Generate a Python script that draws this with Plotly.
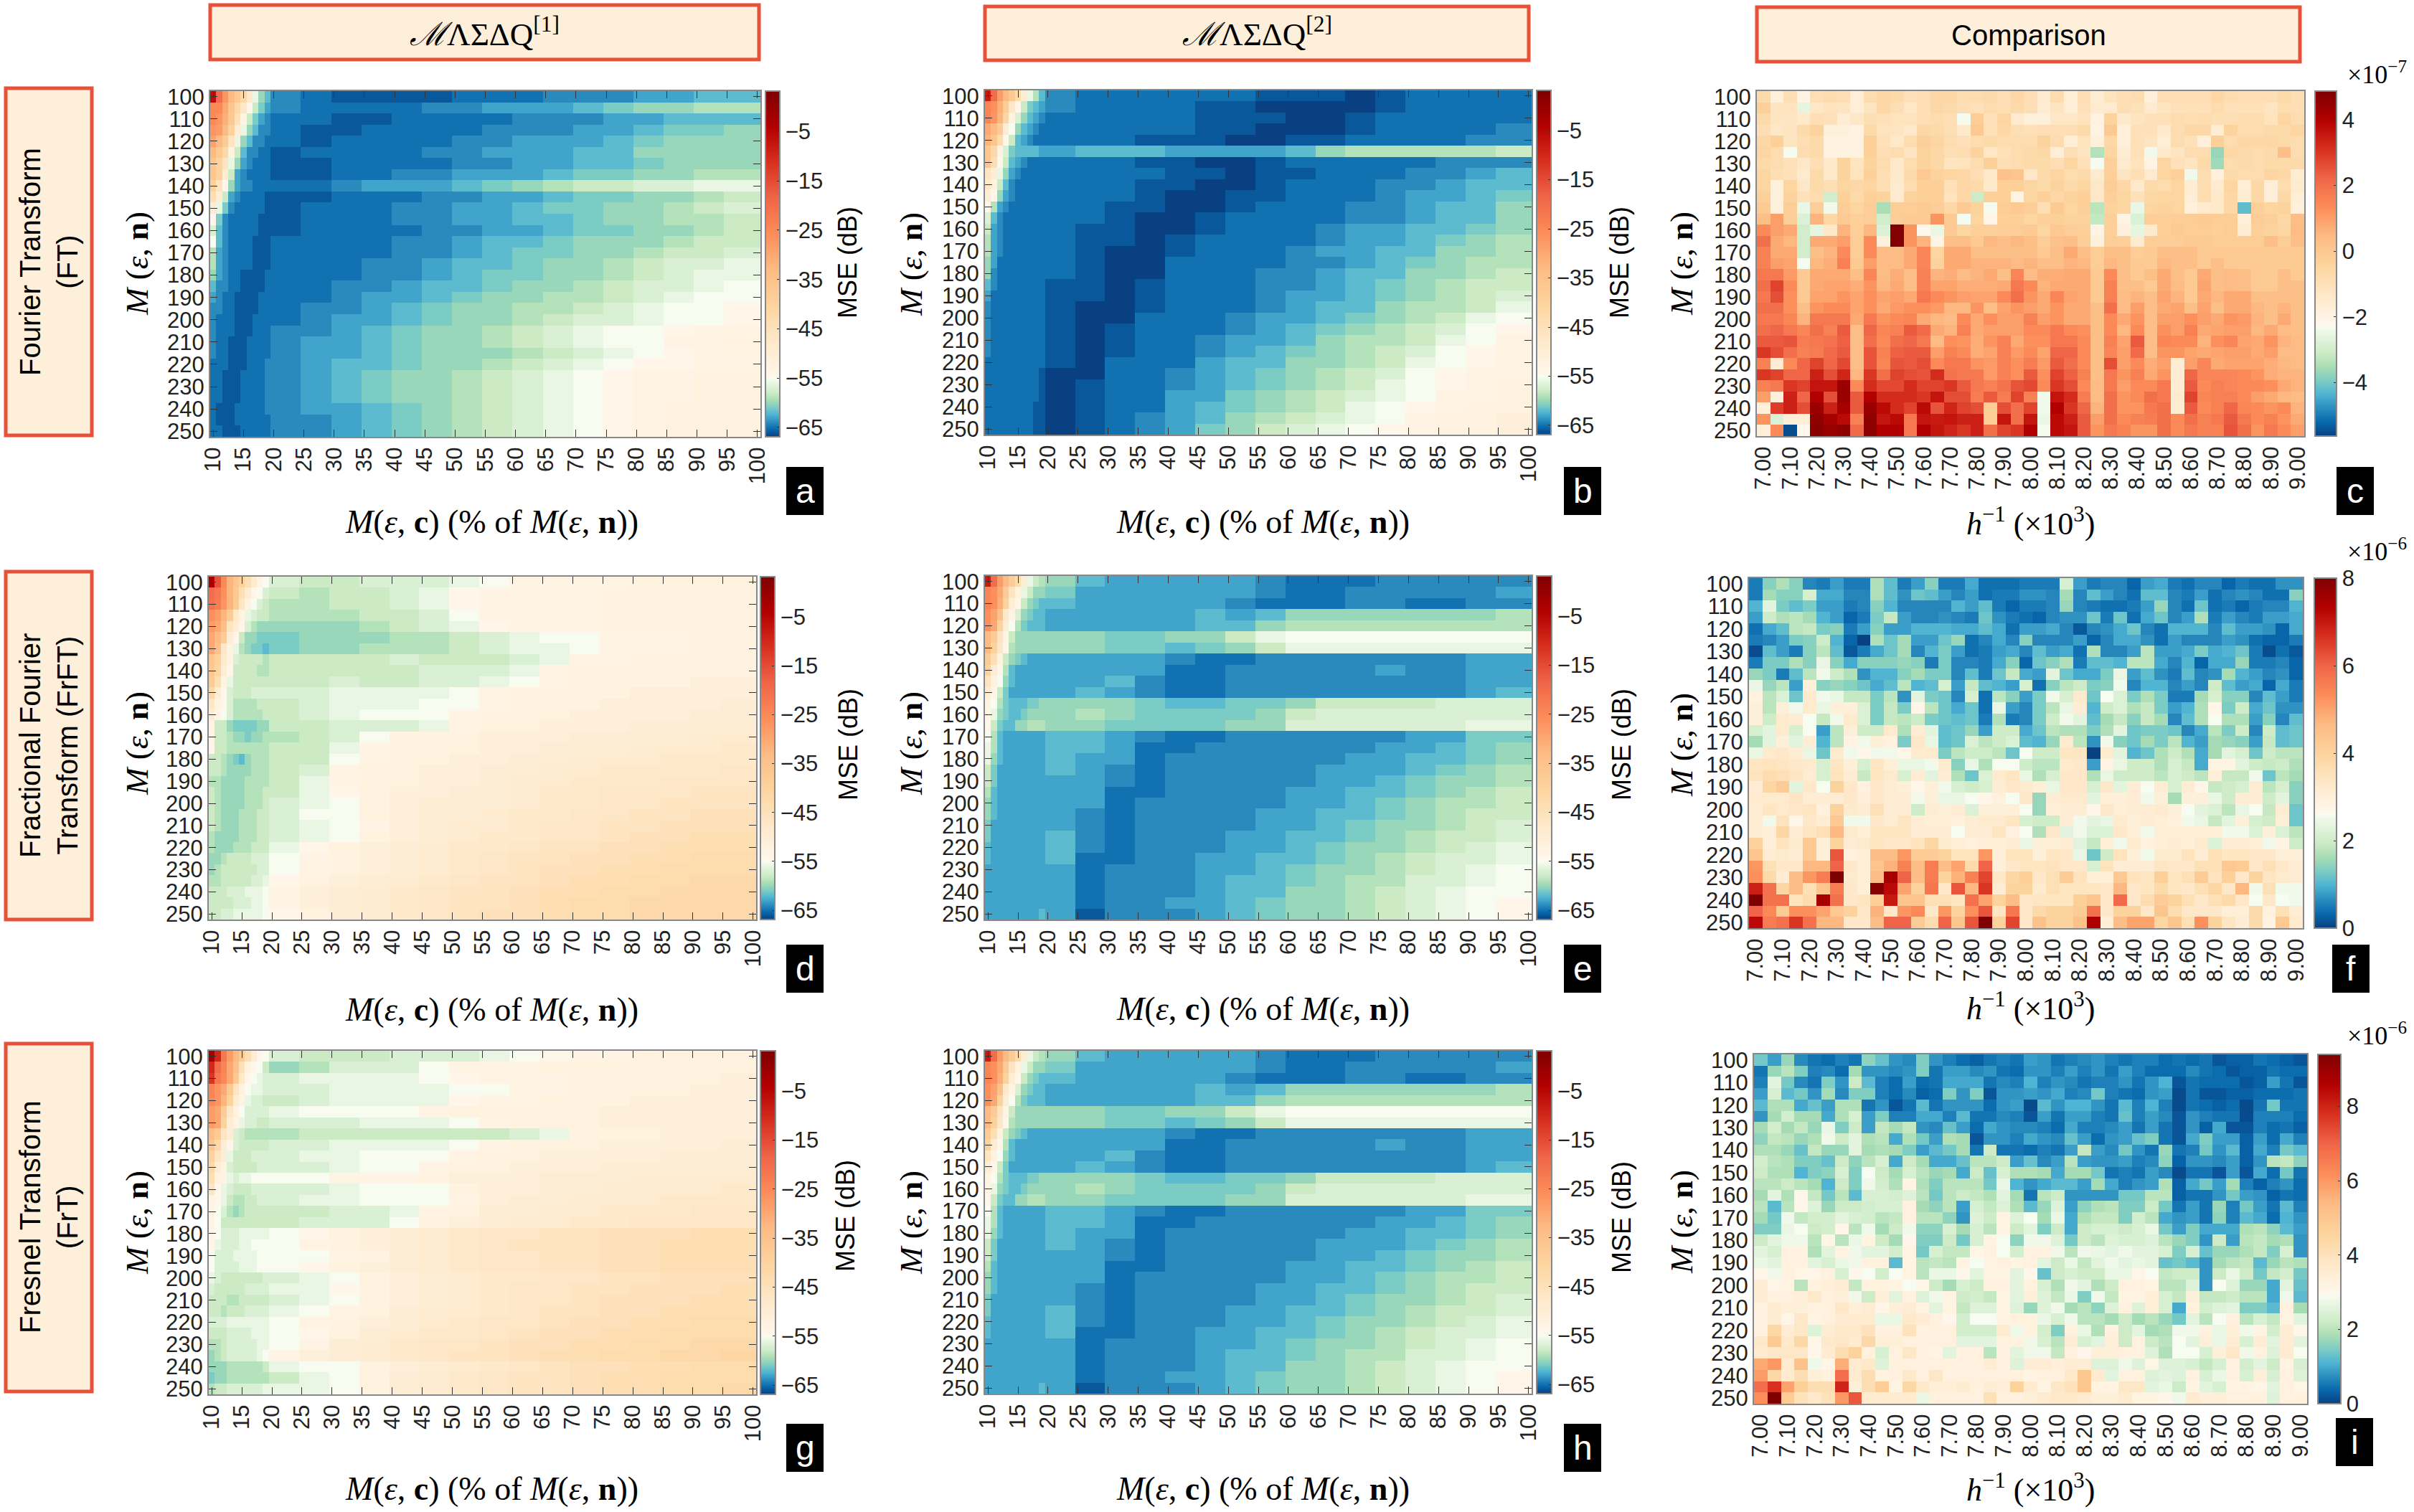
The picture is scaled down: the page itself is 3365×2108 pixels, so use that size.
import plotly.graph_objects as go

W, H = 3365, 2108

# column edges of the % panels, finer where the front is steep
PCT_EDGES = [9.5, 10.5, 11.5, 12.5, 13.5, 14.5, 15.5, 16.5, 17.5, 18.5, 19.5, 24.5, 29.5, 34.5, 39.5, 44.5, 49.5,
             54.5, 59.5, 64.5, 69.5, 74.5, 79.5, 84.5, 89.5, 94.5, 100.5]
M_EDGES = [97.5 + 5 * i for i in range(32)]
H_EDGES = [6.975 + 0.05 * i for i in range(42)]

A_VALUES = [
    [-6,-20,-27,-33,-37,-42,-48,-56,-60,-62,-64,-65,-66,-66,-66,-66,-65,-65,-65,-64,-64,-64,-63,-63,-62,-62],
    [-25,-25,-30,-36,-42,-47,-54,-58,-61,-63,-64,-65,-65,-65,-65,-64,-64,-63,-63,-63,-62,-61,-60,-60,-59,-59],
    [-25,-27,-31,-37,-45,-53,-58,-61,-63,-64,-65,-65,-66,-66,-65,-65,-65,-65,-64,-64,-64,-63,-63,-62,-62,-62],
    [-27,-28,-33,-40,-50,-56,-60,-62,-64,-64,-65,-66,-66,-65,-65,-65,-65,-64,-64,-64,-63,-63,-62,-61,-61,-60],
    [-29,-33,-38,-46,-56,-60,-62,-64,-64,-65,-65,-66,-65,-65,-65,-65,-64,-64,-63,-63,-63,-62,-61,-60,-60,-60],
    [-33,-37,-42,-52,-58,-62,-64,-64,-65,-65,-66,-65,-65,-65,-65,-64,-64,-63,-63,-63,-62,-62,-60,-60,-60,-60],
    [-36,-40,-46,-56,-60,-63,-64,-65,-65,-65,-66,-66,-65,-65,-65,-65,-64,-64,-63,-63,-62,-62,-61,-60,-60,-60],
    [-36,-40,-50,-58,-63,-64,-65,-65,-65,-65,-66,-66,-65,-65,-64,-64,-63,-63,-63,-62,-61,-61,-60,-60,-59,-59],
    [-40,-46,-54,-60,-63,-64,-64,-65,-65,-65,-65,-65,-64,-63,-63,-63,-62,-61,-60,-59,-58,-58,-57,-57,-56,-56],
    [-44,-50,-58,-63,-64,-65,-65,-65,-65,-66,-66,-66,-65,-65,-65,-64,-64,-63,-63,-62,-61,-61,-60,-60,-59,-58],
    [-50,-56,-61,-64,-65,-65,-65,-65,-65,-66,-66,-65,-65,-65,-64,-64,-63,-63,-62,-61,-61,-60,-60,-59,-58,-57],
    [-54,-61,-64,-65,-65,-65,-65,-65,-66,-66,-66,-65,-65,-65,-64,-64,-63,-63,-62,-62,-61,-60,-60,-59,-59,-58],
    [-57,-62,-64,-65,-65,-65,-65,-65,-66,-66,-66,-65,-65,-65,-65,-64,-64,-63,-63,-62,-61,-61,-60,-60,-59,-58],
    [-55,-62,-64,-65,-65,-65,-65,-66,-66,-66,-65,-65,-65,-65,-64,-64,-63,-62,-62,-61,-60,-60,-60,-59,-58,-58],
    [-59,-63,-64,-65,-65,-65,-65,-66,-66,-66,-65,-65,-65,-65,-64,-64,-63,-62,-61,-61,-60,-60,-59,-58,-58,-57],
    [-59,-63,-64,-65,-65,-65,-65,-66,-66,-66,-65,-65,-65,-64,-64,-63,-62,-62,-61,-60,-60,-59,-58,-57,-57,-56],
    [-60,-63,-64,-65,-65,-66,-66,-66,-66,-65,-65,-65,-65,-64,-64,-63,-62,-61,-61,-60,-60,-59,-58,-57,-56,-56],
    [-62,-64,-64,-65,-65,-66,-66,-66,-66,-65,-65,-65,-64,-64,-63,-62,-62,-61,-60,-60,-59,-58,-57,-57,-56,-55],
    [-63,-64,-65,-65,-66,-66,-66,-66,-65,-65,-65,-65,-64,-63,-63,-62,-61,-60,-60,-59,-59,-58,-57,-56,-55,-55],
    [-64,-64,-65,-65,-66,-66,-66,-66,-65,-65,-65,-64,-64,-63,-62,-61,-60,-60,-59,-59,-58,-57,-56,-55,-55,-54],
    [-64,-65,-65,-65,-66,-66,-66,-65,-65,-65,-65,-64,-63,-63,-62,-61,-60,-60,-59,-58,-57,-57,-56,-55,-55,-54],
    [-64,-65,-65,-65,-66,-66,-66,-65,-65,-65,-64,-64,-63,-62,-61,-60,-60,-59,-58,-57,-56,-55,-55,-54,-53,-53],
    [-64,-65,-65,-66,-66,-66,-65,-65,-65,-65,-64,-63,-63,-62,-61,-60,-60,-59,-58,-57,-56,-55,-55,-53,-53,-52],
    [-64,-65,-65,-66,-66,-66,-65,-65,-65,-65,-64,-63,-63,-62,-61,-60,-60,-60,-59,-58,-57,-56,-55,-54,-53,-53],
    [-65,-65,-65,-66,-66,-66,-65,-65,-65,-64,-64,-63,-62,-62,-61,-60,-60,-59,-58,-57,-56,-55,-54,-54,-53,-53],
    [-65,-65,-66,-66,-66,-65,-65,-65,-65,-64,-64,-63,-62,-61,-60,-60,-59,-58,-57,-56,-55,-54,-53,-53,-52,-52],
    [-65,-65,-66,-66,-66,-65,-65,-65,-65,-64,-64,-63,-62,-61,-60,-60,-59,-58,-57,-56,-55,-54,-53,-53,-52,-52],
    [-65,-65,-66,-66,-66,-65,-65,-65,-65,-64,-64,-63,-62,-61,-60,-60,-59,-58,-57,-56,-55,-54,-53,-53,-52,-52],
    [-65,-66,-66,-66,-65,-65,-65,-65,-65,-64,-64,-63,-63,-62,-61,-60,-59,-58,-57,-56,-55,-54,-53,-52,-52,-52],
    [-65,-66,-66,-66,-65,-65,-65,-65,-65,-65,-64,-64,-63,-62,-61,-60,-59,-58,-57,-56,-55,-54,-53,-52,-52,-52],
    [-65,-65,-66,-66,-66,-65,-65,-65,-65,-65,-64,-64,-63,-62,-61,-60,-59,-58,-57,-56,-55,-54,-53,-52,-52,-52],
]
B_VALUES = [
    [-8,-20,-28,-33,-37,-43,-50,-56,-59,-62,-64,-65,-65,-65,-65,-65,-65,-66,-66,-66,-67,-66,-65,-65,-65,-65],
    [-24,-26,-31,-38,-47,-54,-58,-61,-62,-63,-64,-65,-65,-65,-65,-66,-66,-67,-67,-67,-67,-66,-65,-65,-65,-65],
    [-24,-27,-32,-41,-52,-57,-60,-62,-63,-64,-65,-65,-65,-65,-65,-66,-66,-66,-67,-67,-66,-65,-65,-65,-65,-65],
    [-30,-33,-38,-50,-55,-60,-62,-63,-64,-65,-65,-65,-65,-65,-65,-66,-66,-67,-67,-67,-66,-65,-65,-65,-65,-64],
    [-32,-36,-43,-54,-58,-62,-63,-64,-65,-65,-65,-65,-65,-66,-66,-66,-67,-67,-66,-66,-65,-65,-65,-65,-64,-64],
    [-36,-42,-52,-57,-61,-62,-62,-62,-62,-63,-63,-62,-62,-62,-63,-63,-63,-63,-62,-60,-59,-59,-59,-59,-59,-58],
    [-36,-44,-54,-58,-62,-63,-64,-65,-65,-65,-65,-65,-65,-66,-66,-67,-67,-66,-65,-65,-65,-65,-65,-64,-64,-64],
    [-46,-50,-56,-60,-63,-64,-65,-65,-65,-65,-65,-65,-65,-65,-66,-66,-67,-66,-66,-65,-65,-65,-64,-64,-63,-62],
    [-48,-52,-58,-62,-64,-65,-65,-65,-65,-65,-65,-65,-65,-66,-66,-67,-67,-66,-65,-65,-65,-64,-64,-63,-62,-62],
    [-50,-54,-60,-63,-64,-65,-65,-65,-65,-65,-65,-65,-65,-66,-67,-67,-66,-66,-65,-65,-65,-64,-63,-63,-62,-61],
    [-54,-59,-63,-64,-65,-65,-65,-65,-65,-65,-65,-65,-66,-66,-67,-67,-66,-65,-65,-65,-64,-64,-63,-62,-62,-60],
    [-57,-62,-64,-65,-65,-65,-65,-65,-65,-65,-65,-65,-66,-67,-67,-66,-65,-65,-65,-65,-64,-64,-63,-62,-62,-60],
    [-58,-63,-64,-65,-65,-65,-65,-65,-65,-65,-65,-66,-66,-67,-67,-66,-65,-65,-65,-64,-63,-63,-62,-62,-61,-60],
    [-59,-63,-64,-65,-65,-65,-65,-65,-65,-65,-65,-66,-66,-67,-66,-65,-65,-65,-65,-64,-63,-63,-62,-61,-60,-59],
    [-59,-63,-64,-65,-65,-65,-65,-65,-65,-65,-65,-66,-67,-67,-66,-65,-65,-65,-64,-63,-63,-62,-62,-60,-60,-59],
    [-60,-63,-65,-65,-65,-65,-65,-65,-65,-65,-65,-66,-67,-67,-65,-65,-65,-65,-64,-64,-63,-62,-61,-60,-59,-59],
    [-60,-64,-65,-65,-65,-65,-65,-65,-65,-65,-65,-66,-67,-67,-65,-65,-65,-64,-64,-63,-62,-62,-60,-60,-59,-58],
    [-62,-64,-65,-65,-65,-65,-65,-65,-65,-65,-66,-66,-67,-66,-65,-65,-65,-64,-64,-63,-62,-61,-60,-59,-58,-58],
    [-63,-65,-65,-65,-65,-65,-65,-65,-65,-65,-66,-66,-67,-66,-65,-65,-65,-64,-63,-63,-62,-61,-60,-59,-58,-57],
    [-64,-65,-65,-65,-65,-65,-65,-65,-65,-65,-66,-67,-67,-66,-65,-65,-65,-64,-63,-62,-62,-60,-59,-59,-58,-56],
    [-64,-65,-65,-65,-65,-65,-65,-65,-65,-65,-66,-67,-67,-65,-65,-65,-64,-63,-63,-62,-61,-60,-59,-58,-56,-55],
    [-64,-65,-65,-65,-65,-65,-65,-65,-65,-65,-66,-67,-66,-65,-65,-65,-64,-63,-62,-61,-60,-59,-58,-57,-55,-54],
    [-64,-65,-65,-65,-65,-65,-65,-65,-65,-65,-66,-67,-66,-65,-65,-64,-63,-63,-62,-60,-59,-59,-58,-56,-55,-53],
    [-64,-65,-65,-65,-65,-65,-65,-65,-65,-65,-66,-67,-66,-65,-65,-64,-63,-62,-61,-60,-59,-58,-57,-55,-54,-53],
    [-65,-65,-65,-65,-65,-65,-65,-65,-65,-65,-66,-67,-65,-65,-65,-63,-62,-62,-60,-60,-59,-58,-56,-55,-54,-53],
    [-65,-65,-65,-65,-65,-65,-65,-65,-65,-66,-67,-67,-65,-65,-64,-63,-62,-61,-60,-59,-58,-57,-55,-54,-53,-53],
    [-65,-65,-65,-65,-65,-65,-65,-65,-65,-66,-67,-66,-65,-65,-64,-63,-62,-61,-60,-59,-58,-56,-55,-54,-53,-52],
    [-65,-65,-65,-65,-65,-65,-65,-65,-65,-66,-67,-66,-65,-65,-63,-63,-61,-60,-59,-58,-57,-56,-55,-53,-53,-52],
    [-65,-65,-65,-65,-65,-65,-65,-65,-66,-66,-67,-66,-65,-65,-63,-62,-61,-60,-59,-58,-56,-55,-54,-53,-52,-52],
    [-65,-65,-65,-65,-65,-65,-65,-65,-66,-66,-67,-66,-65,-64,-63,-62,-60,-59,-58,-57,-56,-55,-53,-52,-52,-51],
    [-65,-65,-65,-65,-65,-65,-65,-65,-66,-66,-67,-66,-65,-64,-63,-61,-60,-58,-57,-56,-55,-54,-53,-52,-52,-51],
]
D_VALUES = [
    [-3,-16,-25,-32,-36,-40,-44,-49,-53,-55,-57,-58,-58,-57,-57,-57,-56,-55,-53,-53,-53,-53,-52,-52,-52,-52],
    [-20,-22,-26,-32,-37,-44,-50,-54,-55,-57,-58,-59,-58,-58,-57,-56,-54,-53,-53,-53,-53,-52,-52,-52,-52,-52],
    [-21,-23,-27,-32,-38,-47,-52,-55,-57,-58,-59,-59,-58,-58,-57,-56,-54,-53,-53,-53,-53,-52,-52,-52,-52,-52],
    [-26,-28,-32,-38,-48,-53,-56,-57,-58,-58,-59,-59,-59,-58,-58,-57,-55,-53,-53,-53,-53,-52,-52,-52,-52,-52],
    [-28,-30,-34,-46,-50,-54,-57,-59,-60,-60,-60,-60,-60,-59,-58,-57,-56,-54,-53,-53,-53,-52,-52,-52,-52,-52],
    [-30,-33,-38,-50,-54,-58,-60,-60,-61,-61,-61,-60,-60,-60,-59,-59,-58,-57,-56,-55,-55,-53,-53,-53,-52,-52],
    [-30,-35,-47,-52,-56,-59,-60,-61,-61,-62,-61,-60,-60,-59,-59,-59,-58,-57,-56,-56,-55,-53,-53,-53,-52,-52],
    [-36,-40,-48,-52,-57,-58,-58,-58,-58,-59,-58,-58,-58,-58,-57,-58,-58,-58,-57,-56,-53,-53,-52,-52,-52,-52],
    [-37,-41,-50,-54,-58,-58,-58,-58,-59,-59,-58,-58,-58,-58,-58,-57,-57,-57,-56,-53,-52,-52,-52,-52,-52,-52],
    [-38,-44,-52,-56,-58,-58,-58,-58,-58,-58,-58,-58,-57,-58,-58,-57,-57,-56,-55,-53,-52,-52,-52,-52,-51,-51],
    [-42,-50,-54,-57,-58,-58,-58,-57,-57,-57,-57,-57,-56,-56,-56,-56,-55,-53,-52,-52,-52,-52,-51,-51,-51,-51],
    [-47,-52,-54,-57,-59,-59,-59,-59,-58,-58,-58,-57,-56,-56,-56,-55,-55,-53,-52,-52,-52,-51,-51,-51,-51,-50],
    [-50,-53,-55,-57,-59,-59,-59,-59,-59,-58,-58,-57,-56,-55,-55,-55,-53,-52,-52,-52,-51,-51,-51,-51,-50,-50],
    [-53,-58,-58,-60,-61,-61,-61,-61,-60,-60,-58,-58,-57,-57,-57,-56,-53,-52,-52,-51,-51,-51,-50,-50,-50,-50],
    [-53,-58,-58,-59,-60,-60,-61,-60,-60,-59,-59,-58,-57,-55,-52,-52,-52,-51,-51,-51,-50,-50,-50,-50,-49,-49],
    [-54,-58,-58,-59,-59,-59,-59,-59,-59,-59,-58,-58,-56,-53,-52,-52,-52,-51,-51,-50,-50,-50,-49,-49,-49,-48],
    [-58,-58,-59,-60,-61,-62,-60,-59,-59,-59,-58,-58,-55,-53,-52,-52,-51,-51,-50,-50,-49,-49,-49,-48,-48,-48],
    [-58,-58,-59,-60,-60,-60,-60,-59,-59,-59,-58,-57,-53,-52,-52,-51,-51,-50,-50,-49,-49,-48,-48,-48,-48,-47],
    [-59,-59,-60,-60,-60,-60,-59,-59,-59,-59,-58,-56,-53,-52,-52,-51,-51,-50,-49,-49,-48,-48,-48,-47,-47,-47],
    [-58,-59,-60,-60,-60,-60,-59,-59,-59,-58,-58,-56,-54,-52,-51,-51,-50,-50,-49,-48,-48,-47,-47,-47,-46,-46],
    [-58,-59,-60,-60,-60,-60,-59,-59,-59,-58,-57,-56,-55,-52,-51,-50,-50,-50,-49,-48,-48,-47,-47,-46,-46,-46],
    [-58,-59,-60,-60,-60,-59,-59,-59,-58,-58,-57,-55,-55,-52,-51,-50,-50,-49,-48,-48,-47,-47,-46,-46,-45,-45],
    [-58,-59,-60,-60,-60,-59,-59,-59,-58,-58,-57,-56,-55,-53,-51,-50,-49,-49,-48,-47,-47,-46,-46,-45,-45,-45],
    [-59,-60,-60,-60,-60,-59,-59,-59,-58,-58,-57,-56,-55,-52,-51,-50,-49,-48,-48,-47,-47,-46,-45,-45,-44,-44],
    [-59,-60,-60,-60,-59,-59,-59,-58,-58,-58,-56,-54,-52,-51,-50,-49,-48,-48,-47,-46,-46,-45,-45,-44,-44,-44],
    [-60,-60,-59,-58,-58,-58,-58,-57,-57,-57,-55,-53,-52,-51,-50,-49,-48,-47,-46,-46,-45,-45,-44,-44,-43,-43],
    [-60,-59,-58,-58,-58,-58,-58,-58,-57,-57,-55,-53,-52,-51,-50,-49,-48,-47,-46,-45,-45,-44,-44,-43,-43,-43],
    [-59,-59,-58,-58,-58,-58,-58,-57,-57,-56,-54,-52,-51,-50,-49,-48,-47,-46,-46,-45,-44,-44,-43,-43,-42,-42],
    [-58,-58,-58,-57,-57,-57,-56,-56,-56,-55,-53,-51,-50,-49,-48,-47,-46,-46,-45,-44,-44,-43,-43,-42,-42,-42],
    [-58,-58,-58,-58,-57,-57,-57,-56,-56,-55,-53,-51,-50,-49,-48,-47,-46,-46,-45,-44,-43,-43,-42,-42,-42,-42],
    [-58,-58,-57,-57,-56,-56,-56,-56,-56,-55,-54,-52,-50,-49,-48,-47,-46,-45,-45,-44,-43,-43,-42,-42,-42,-42],
]
E_VALUES = [
    [-8,-20,-28,-33,-38,-43,-50,-56,-58,-59,-60,-62,-63,-63,-63,-63,-63,-64,-65,-65,-65,-64,-64,-64,-64,-64],
    [-24,-26,-30,-38,-46,-52,-56,-58,-60,-60,-61,-63,-63,-63,-63,-63,-63,-64,-65,-65,-64,-64,-64,-64,-64,-63],
    [-24,-26,-31,-40,-50,-54,-58,-60,-61,-62,-62,-63,-63,-63,-63,-63,-64,-65,-65,-65,-64,-64,-65,-65,-64,-64],
    [-26,-29,-35,-48,-53,-57,-60,-61,-62,-62,-63,-63,-63,-63,-63,-62,-63,-62,-60,-60,-60,-60,-60,-60,-60,-59],
    [-26,-30,-40,-50,-55,-59,-61,-62,-62,-62,-63,-63,-63,-63,-63,-62,-62,-60,-59,-59,-59,-59,-59,-59,-59,-59],
    [-33,-38,-46,-53,-58,-60,-60,-60,-60,-60,-60,-60,-61,-61,-60,-60,-58,-56,-55,-55,-55,-55,-55,-55,-55,-55],
    [-33,-40,-47,-54,-59,-60,-60,-60,-60,-60,-60,-60,-61,-61,-62,-61,-60,-58,-56,-56,-56,-56,-56,-56,-56,-56],
    [-38,-44,-52,-58,-60,-61,-62,-63,-63,-63,-63,-63,-63,-63,-64,-65,-65,-64,-64,-64,-64,-64,-64,-64,-63,-63],
    [-40,-50,-54,-59,-62,-63,-63,-63,-63,-63,-63,-63,-63,-63,-65,-65,-64,-64,-64,-64,-64,-63,-64,-64,-63,-63],
    [-46,-52,-55,-60,-62,-63,-63,-63,-63,-63,-63,-63,-62,-64,-65,-65,-64,-64,-64,-64,-64,-64,-64,-64,-63,-63],
    [-50,-54,-58,-61,-63,-63,-63,-63,-63,-63,-63,-62,-63,-64,-65,-65,-64,-64,-64,-64,-64,-64,-64,-64,-63,-62],
    [-52,-55,-59,-61,-62,-62,-62,-61,-61,-60,-60,-60,-60,-61,-62,-62,-61,-61,-60,-58,-58,-58,-58,-57,-57,-57],
    [-53,-56,-60,-61,-62,-62,-61,-60,-60,-60,-60,-59,-60,-61,-61,-61,-61,-60,-58,-57,-57,-57,-57,-57,-57,-57],
    [-54,-58,-61,-62,-62,-60,-60,-59,-59,-59,-60,-60,-61,-61,-61,-61,-60,-60,-57,-57,-57,-57,-57,-57,-56,-56],
    [-55,-59,-62,-63,-63,-63,-63,-63,-63,-63,-62,-62,-63,-64,-65,-65,-64,-64,-64,-64,-64,-64,-63,-63,-61,-61],
    [-56,-59,-62,-63,-63,-63,-63,-63,-63,-63,-62,-62,-63,-65,-65,-64,-64,-64,-64,-64,-64,-63,-63,-62,-61,-60],
    [-56,-60,-62,-63,-63,-63,-63,-63,-63,-63,-62,-63,-63,-65,-64,-64,-64,-64,-64,-64,-63,-63,-62,-62,-61,-60],
    [-58,-61,-63,-63,-63,-63,-63,-63,-63,-63,-62,-63,-64,-65,-64,-64,-64,-64,-64,-63,-63,-63,-62,-61,-60,-59],
    [-58,-61,-63,-63,-63,-63,-63,-63,-63,-63,-63,-63,-64,-65,-64,-64,-64,-64,-64,-63,-63,-62,-61,-60,-60,-59],
    [-59,-62,-63,-63,-63,-63,-63,-63,-63,-63,-63,-63,-65,-65,-64,-64,-64,-64,-63,-63,-62,-62,-61,-60,-59,-58],
    [-60,-62,-63,-63,-63,-63,-63,-63,-63,-63,-63,-63,-65,-64,-64,-64,-64,-64,-63,-63,-62,-61,-60,-59,-59,-58],
    [-60,-62,-63,-63,-63,-63,-63,-63,-63,-63,-63,-64,-65,-64,-64,-64,-64,-63,-63,-62,-62,-61,-60,-59,-58,-58],
    [-61,-63,-63,-63,-63,-63,-63,-63,-63,-63,-63,-64,-65,-64,-64,-64,-64,-63,-63,-62,-61,-60,-60,-59,-58,-57],
    [-61,-63,-63,-63,-63,-63,-63,-63,-63,-63,-62,-64,-65,-64,-64,-64,-63,-63,-62,-62,-61,-60,-59,-58,-58,-57],
    [-62,-63,-63,-63,-63,-63,-63,-63,-63,-63,-62,-64,-65,-64,-64,-64,-63,-63,-62,-61,-60,-60,-59,-58,-57,-56],
    [-62,-63,-63,-63,-63,-63,-63,-63,-63,-63,-62,-65,-65,-64,-64,-63,-63,-62,-62,-61,-60,-59,-58,-57,-57,-56],
    [-63,-63,-63,-63,-63,-63,-63,-63,-63,-63,-63,-65,-64,-64,-64,-63,-63,-62,-61,-60,-60,-59,-58,-57,-56,-55],
    [-63,-63,-63,-63,-63,-63,-63,-63,-63,-63,-63,-65,-64,-64,-64,-63,-62,-62,-61,-60,-59,-59,-57,-57,-56,-55],
    [-63,-63,-63,-63,-63,-63,-63,-63,-63,-63,-63,-65,-64,-64,-64,-63,-62,-62,-60,-60,-59,-58,-57,-56,-55,-55],
    [-63,-63,-63,-63,-63,-63,-63,-63,-63,-63,-63,-65,-64,-64,-63,-63,-62,-61,-60,-60,-59,-58,-57,-56,-55,-54],
    [-63,-63,-63,-63,-63,-63,-63,-63,-63,-62,-63,-66,-64,-64,-64,-63,-62,-61,-60,-60,-59,-58,-57,-56,-55,-54],
]
G_VALUES = [
    [-2,-10,-22,-28,-33,-38,-44,-50,-54,-55,-57,-58,-58,-58,-57,-57,-57,-56,-55,-54,-53,-53,-52,-52,-52,-52],
    [-10,-20,-24,-30,-35,-45,-52,-54,-55,-58,-60,-59,-57,-57,-57,-55,-53,-53,-53,-52,-52,-52,-52,-52,-52,-52],
    [-12,-22,-25,-30,-37,-48,-54,-55,-56,-57,-57,-56,-56,-56,-56,-55,-54,-53,-53,-53,-52,-52,-52,-52,-52,-51],
    [-24,-27,-30,-37,-46,-52,-55,-56,-56,-57,-57,-57,-56,-56,-56,-56,-55,-55,-53,-53,-52,-52,-52,-52,-51,-51],
    [-25,-27,-32,-40,-50,-53,-56,-57,-57,-58,-58,-57,-56,-56,-56,-56,-54,-53,-53,-52,-52,-52,-51,-51,-51,-51],
    [-28,-30,-38,-47,-52,-55,-57,-57,-57,-57,-56,-55,-55,-55,-55,-53,-52,-52,-52,-52,-52,-51,-51,-51,-51,-51],
    [-28,-30,-40,-50,-53,-56,-57,-57,-58,-58,-57,-57,-57,-56,-56,-56,-55,-53,-52,-52,-52,-51,-51,-51,-51,-51],
    [-34,-38,-46,-50,-57,-58,-59,-59,-59,-59,-59,-58,-58,-58,-58,-58,-58,-58,-57,-56,-52,-52,-52,-51,-51,-51],
    [-36,-42,-50,-54,-57,-58,-58,-58,-58,-58,-57,-57,-56,-56,-56,-56,-55,-53,-52,-52,-52,-51,-51,-51,-51,-50],
    [-40,-46,-50,-56,-58,-58,-58,-57,-57,-57,-57,-56,-56,-55,-55,-55,-53,-52,-52,-51,-51,-51,-51,-50,-50,-50],
    [-42,-50,-52,-57,-58,-58,-58,-58,-57,-57,-57,-57,-56,-55,-55,-53,-52,-52,-51,-51,-51,-50,-50,-50,-50,-50],
    [-44,-52,-53,-56,-57,-56,-56,-55,-55,-55,-55,-55,-53,-53,-53,-52,-51,-51,-51,-50,-50,-50,-49,-49,-49,-49],
    [-46,-54,-56,-57,-58,-58,-58,-57,-57,-57,-57,-57,-56,-55,-55,-55,-52,-51,-51,-50,-50,-49,-49,-49,-49,-48],
    [-53,-54,-56,-58,-59,-59,-58,-58,-57,-57,-57,-56,-56,-55,-55,-55,-53,-51,-50,-50,-49,-49,-49,-48,-48,-48],
    [-53,-55,-57,-59,-60,-59,-58,-58,-58,-58,-58,-58,-57,-57,-56,-53,-52,-50,-50,-49,-49,-48,-48,-48,-47,-47],
    [-53,-55,-58,-58,-58,-58,-58,-58,-58,-58,-58,-57,-57,-57,-55,-52,-51,-50,-49,-49,-48,-48,-47,-47,-47,-47],
    [-54,-55,-57,-57,-57,-56,-56,-56,-56,-56,-55,-54,-52,-51,-50,-49,-48,-47,-47,-46,-46,-45,-45,-45,-44,-44],
    [-54,-56,-57,-57,-57,-56,-56,-55,-55,-55,-55,-53,-52,-51,-50,-49,-48,-47,-46,-46,-46,-45,-45,-44,-44,-44],
    [-55,-57,-57,-57,-56,-56,-56,-56,-55,-55,-55,-55,-53,-52,-50,-49,-48,-47,-47,-46,-46,-45,-45,-44,-44,-44],
    [-55,-57,-57,-57,-57,-56,-56,-56,-55,-55,-55,-54,-52,-51,-50,-49,-48,-47,-47,-46,-46,-45,-45,-44,-44,-44],
    [-56,-57,-58,-58,-58,-58,-58,-58,-58,-57,-57,-56,-55,-52,-51,-50,-49,-48,-48,-47,-47,-46,-46,-45,-45,-45],
    [-57,-58,-58,-58,-58,-58,-57,-57,-57,-57,-56,-56,-54,-52,-51,-50,-49,-48,-47,-47,-46,-46,-45,-45,-45,-44],
    [-58,-58,-58,-59,-59,-58,-58,-58,-58,-58,-57,-56,-55,-52,-51,-50,-49,-48,-47,-47,-46,-45,-45,-45,-44,-44],
    [-58,-58,-59,-58,-58,-58,-57,-57,-57,-57,-56,-55,-53,-52,-50,-49,-49,-48,-47,-46,-46,-45,-45,-44,-44,-44],
    [-57,-57,-57,-56,-56,-56,-56,-56,-56,-56,-55,-53,-52,-51,-50,-49,-48,-47,-47,-46,-45,-45,-44,-44,-43,-43],
    [-58,-58,-58,-57,-57,-57,-57,-56,-56,-56,-55,-54,-52,-50,-49,-48,-48,-47,-46,-45,-45,-44,-44,-43,-43,-43],
    [-59,-59,-58,-57,-57,-57,-57,-57,-56,-56,-55,-53,-50,-49,-48,-47,-47,-46,-45,-45,-44,-44,-43,-43,-42,-42],
    [-60,-59,-58,-57,-57,-57,-57,-57,-56,-55,-53,-51,-50,-49,-48,-47,-46,-46,-45,-44,-44,-43,-43,-42,-42,-41],
    [-60,-60,-60,-59,-59,-59,-59,-59,-59,-58,-56,-55,-55,-52,-51,-50,-49,-48,-47,-46,-45,-45,-44,-44,-43,-43],
    [-61,-60,-60,-59,-59,-59,-59,-59,-59,-59,-58,-56,-55,-52,-50,-49,-48,-47,-46,-46,-45,-44,-44,-43,-43,-43],
    [-59,-58,-58,-57,-57,-57,-57,-57,-57,-56,-56,-56,-55,-52,-50,-49,-48,-47,-46,-46,-45,-44,-44,-43,-43,-42],
]
H_VALUES = E_VALUES

# comparison panels, tenths of the colourbar unit
C_VALUES = [
    [-7,-18,-9,-20,-9,-8,-9,-17,-8,-6,-7,-10,-9,-6,-6,-8,-8,-7,-9,-6,-9,-15,-8,-17,-9,-16,-11,-9,-8,-18,-9,-9,-9,-9,-6,-8,-9,-9,-9,-7,-9],
    [-3,-12,-11,-26,-13,-11,-12,-17,-12,-6,-9,-13,-9,-6,-7,-9,-10,-8,-9,-7,-9,-16,-12,-17,-10,-15,-15,-9,-10,-15,-12,-10,-10,-10,-8,-10,-10,-10,-12,-8,-9],
    [-7,-12,-12,-14,-9,-10,-16,-13,-9,-10,-11,-11,-9,-8,-9,-23,-2,-10,-5,-15,-18,-18,-13,-13,-11,-19,-4,-14,-12,-10,-10,-8,-9,-8,-9,-9,-8,-8,-11,-5,-8],
    [-9,-13,-12,-7,-4,-18,-18,-19,-7,-11,-12,-14,-6,-7,-9,-14,0,-10,-6,-9,-10,-9,-9,-9,-7,-20,0,-18,-10,-10,-14,-8,-6,-6,-16,-4,-8,-8,-7,-7,-5],
    [-6,-3,-12,-9,-7,-19,-19,-19,-3,-10,-14,-8,-3,-5,-8,-10,-8,-7,-8,-8,-8,-4,-8,-17,-11,-18,-6,-18,-10,-12,-17,-8,-10,-18,-3,-8,-6,-6,-6,-7,-8],
    [-5,-8,-23,-8,-7,-19,-19,-19,-3,-9,-8,-12,-4,-6,-9,-8,-4,-13,-10,-8,-7,-6,-17,-9,-12,-34,-5,-16,-10,-24,-14,-12,-8,-8,-37,-6,-7,-8,-7,3,-8],
    [-7,-8,-10,-13,-9,-14,-4,-12,-4,-8,-14,-8,-4,-6,-12,-11,-8,-3,-9,-8,-7,-7,-9,-5,-10,-23,-3,-15,-11,-20,-5,-10,-12,-7,-36,-8,-7,-8,-7,-7,-7],
    [-5,-9,-10,-15,-7,-14,-4,-11,-3,-9,-14,-7,0,-4,-5,-6,-9,-14,2,1,-13,-7,-5,-8,-7,-15,-3,-12,-9,-15,-5,-3,-24,-8,-18,-7,-8,-8,-5,-6,-16],
    [-5,-18,-5,-13,-7,-9,-5,-6,-5,-9,-15,-8,-3,-3,-10,-6,-7,-14,-3,-3,-5,-7,-4,-7,-5,-13,-2,-6,-14,-7,-8,-5,-16,-8,-15,-5,-17,-6,-17,-8,-15],
    [-3,-18,-4,-10,-8,-30,-3,-7,-3,-4,-15,-4,-3,-3,-11,-6,-31,-3,-3,-20,-5,-3,-6,-4,-3,-13,-3,-5,-10,-6,-5,-5,-17,-8,-14,-6,-16,-6,-17,-6,-17],
    [-1,-18,-2,-25,-2,-24,-2,-5,-2,-35,-2,-2,-1,-2,-6,-1,-4,-23,-2,-1,-2,-9,-1,-5,-3,-33,-4,-5,-25,-5,-4,-5,-18,-15,-14,-6,-42,-3,-5,-4,-18],
    [3,10,-2,-28,6,-6,-1,-3,-2,-30,-2,-1,-1,12,-1,-23,-5,-21,-3,-3,-5,-3,-3,-4,-4,-32,-3,-20,-28,-2,-3,-2,-2,-1,-2,-2,-18,-2,-3,-6,3],
    [14,10,8,-30,-26,-13,6,-3,5,-28,48,12,-22,-25,-1,-5,-3,-3,-2,-2,-1,-5,0,-2,-3,-20,-3,-18,-26,-14,-3,-1,-2,-2,-3,-2,-16,-3,-4,-5,4],
    [20,8,5,-30,8,8,10,-2,14,-18,48,12,6,-20,3,3,-1,5,3,5,3,-2,2,3,-2,-18,-2,-3,-15,-2,-2,-2,-1,-1,-2,-2,-2,-2,3,-2,3],
    [16,8,8,-30,3,6,14,-2,14,4,4,8,15,-5,8,8,3,3,3,3,3,0,3,8,3,-2,3,3,-2,-1,3,3,3,-1,-1,-1,-1,-1,-1,-1,-1],
    [16,10,9,-23,5,7,16,-1,10,4,4,8,15,-4,8,8,6,6,6,4,6,3,3,6,5,-2,5,3,-1,-1,5,3,3,-1,3,-1,-1,-1,-1,-1,-1],
    [18,18,11,-1,8,8,8,3,15,4,7,3,16,6,7,4,6,8,3,15,4,7,7,8,8,-1,14,3,-1,3,8,3,-1,8,3,4,3,-1,-1,3,-1],
    [20,28,14,-1,8,9,9,7,12,5,8,3,16,9,9,7,7,7,8,18,14,6,8,8,8,-1,16,3,3,-1,8,4,-1,9,3,4,3,-1,-1,3,3],
    [18,26,13,-1,9,9,12,9,13,9,10,8,18,14,12,10,9,9,14,20,12,8,15,9,8,-1,16,4,6,3,9,6,-1,8,5,8,8,3,3,3,3],
    [20,20,13,3,12,14,14,9,13,8,11,13,13,11,5,5,12,3,9,12,10,8,12,8,8,3,20,4,10,3,8,9,3,9,3,8,8,5,3,6,3],
    [18,18,15,6,18,18,18,8,18,12,14,15,8,5,4,14,8,13,10,10,16,10,12,8,8,3,14,8,12,3,10,10,13,10,8,12,11,6,3,8,3],
    [20,22,18,15,20,16,24,3,22,15,16,24,21,8,6,16,8,10,10,10,14,14,18,14,13,3,14,5,14,3,13,10,16,8,9,10,10,5,8,4,3],
    [24,24,25,17,18,19,23,3,20,14,20,22,18,4,13,12,7,12,16,8,13,13,18,18,14,3,16,9,24,3,15,14,14,6,13,15,9,8,12,6,4],
    [30,26,20,16,17,21,24,3,25,16,23,24,24,10,16,14,7,9,16,11,14,9,22,22,14,3,15,10,21,3,12,12,9,8,9,10,10,8,10,4,4],
    [16,-16,14,22,28,22,27,3,25,15,25,24,26,14,18,18,12,11,16,13,17,11,24,20,14,3,26,10,14,7,10,-16,10,15,8,9,9,9,7,5,4],
    [30,28,22,22,34,26,33,5,30,20,28,26,25,32,19,18,18,11,16,13,24,13,28,23,16,3,18,12,16,8,12,-16,22,15,15,15,14,12,7,6,6],
    [16,18,30,28,36,36,44,14,32,27,27,32,28,28,30,24,18,16,19,25,27,14,30,26,14,4,18,10,14,14,18,-16,24,14,16,15,14,14,13,8,6],
    [10,-18,34,22,40,26,44,24,40,32,32,32,30,36,26,26,17,24,17,28,16,-24,36,32,17,4,20,12,14,20,18,-15,28,15,16,16,14,10,8,5,4],
    [-18,29,34,26,44,34,42,24,44,38,32,28,38,25,33,28,26,-2,26,20,28,-24,40,30,22,6,20,12,12,18,20,-16,24,14,16,22,15,14,12,14,6],
    [12,-28,-17,-17,46,42,38,16,46,36,38,18,36,35,36,34,34,-2,36,20,36,-25,38,34,24,10,20,14,16,17,20,14,20,16,18,24,18,14,16,12,8],
    [-17,14,-55,-22,47,44,46,21,46,40,40,18,40,36,33,30,34,20,28,30,40,-23,38,36,24,12,18,16,12,12,20,14,18,16,16,25,20,12,18,14,10],
]
F_VALUES = [
    [5,14,17,14,6,5,8,5,5,17,11,5,8,14,5,5,9,4,4,4,5,5,5,21,8,5,6,6,3,8,9,5,4,6,6,3,5,4,4,7,7],
    [5,16,14,14,21,9,9,6,6,17,11,7,12,11,8,6,8,4,5,5,7,7,6,16,6,11,8,6,4,11,11,6,5,8,4,6,7,6,4,4,14],
    [10,23,13,11,13,8,8,5,6,14,10,6,6,6,6,10,8,11,5,3,5,5,6,15,6,5,4,4,5,8,15,6,4,12,4,5,3,5,6,6,10],
    [8,20,17,18,16,10,8,3,5,13,19,8,6,6,7,6,5,12,7,5,4,3,6,7,7,12,5,12,4,9,12,6,8,17,5,8,6,5,8,8,9],
    [4,9,11,18,19,13,14,5,8,14,8,8,10,10,10,9,9,11,9,4,8,8,9,6,2,6,7,9,12,6,4,10,10,10,6,11,8,8,7,3,9],
    [5,6,8,13,14,20,10,3,0,17,12,16,8,8,12,15,4,6,9,6,14,6,6,6,8,3,6,9,9,7,4,8,6,6,6,8,7,4,3,3,5],
    [1,11,8,5,14,18,11,2,5,9,12,16,6,10,13,8,4,5,8,9,6,11,8,9,4,17,6,6,8,18,8,8,9,13,9,10,12,5,1,4,2],
    [5,13,13,17,14,24,14,9,14,14,14,15,14,5,13,6,6,5,9,14,3,12,14,17,5,11,11,10,18,18,9,6,10,3,9,9,15,5,5,6,3],
    [15,13,5,11,18,25,20,17,7,10,10,14,16,13,13,6,11,5,12,19,9,8,23,12,9,9,13,24,8,11,7,5,11,6,7,16,10,8,6,7,3],
    [24,15,18,8,30,14,15,14,12,9,11,18,10,11,21,8,19,11,10,8,21,4,14,18,20,13,14,25,6,10,10,6,8,6,20,11,8,9,3,9,5],
    [29,18,22,12,32,25,24,19,19,13,18,7,23,13,12,6,21,4,18,14,8,13,25,21,32,12,26,22,13,17,13,5,5,16,21,14,14,6,11,8,5],
    [30,18,30,25,32,24,30,30,22,13,19,13,27,18,12,9,12,4,24,8,6,13,18,24,31,10,20,22,17,19,13,8,10,17,27,13,20,9,12,7,7],
    [30,20,32,31,26,19,25,32,22,13,19,18,20,13,12,11,12,5,17,5,6,13,20,25,23,11,16,19,14,19,16,6,11,17,26,17,17,8,14,6,11],
    [21,23,32,21,26,8,18,30,20,20,32,17,31,23,11,12,15,8,20,20,9,12,18,17,17,13,17,23,12,13,13,12,6,9,18,13,20,6,20,11,12],
    [16,23,30,23,31,10,18,28,25,30,29,13,33,24,11,12,22,18,20,22,11,10,15,32,18,7,25,14,12,16,13,18,10,8,16,15,14,8,19,11,12],
    [24,32,33,31,24,12,32,25,27,25,25,27,32,32,13,18,20,20,18,12,26,20,20,34,34,0,32,23,10,12,17,20,17,9,16,23,21,12,20,18,18],
    [34,35,34,33,32,21,34,30,21,34,30,24,24,25,32,14,24,17,26,26,20,18,18,32,33,8,28,24,20,20,17,21,19,9,28,28,23,20,19,20,17],
    [35,37,36,34,31,21,35,31,19,34,32,21,31,23,31,17,12,22,32,34,24,17,21,33,33,17,24,20,20,20,18,21,20,18,30,19,19,25,12,18,16],
    [31,39,42,23,33,26,40,33,29,33,31,30,27,30,25,21,20,21,31,33,32,30,24,33,33,21,33,23,31,26,31,21,31,27,19,20,21,31,18,21,14],
    [32,32,32,34,31,31,31,33,30,33,31,31,25,30,24,24,26,27,29,26,33,15,31,32,32,23,30,30,31,25,30,16,30,30,24,20,31,31,20,23,14],
    [31,34,32,33,34,29,40,32,31,36,31,31,20,31,30,31,22,30,30,30,26,15,30,31,31,27,33,30,31,31,32,30,26,23,22,18,24,26,19,31,12],
    [31,25,35,27,33,31,43,25,25,33,31,34,31,30,30,29,31,32,32,34,21,20,20,31,25,23,24,32,30,31,30,29,25,24,19,23,30,21,20,30,12],
    [31,30,39,31,34,36,47,32,30,34,34,34,31,31,31,26,31,31,34,29,26,17,33,23,25,22,22,33,30,25,30,30,30,30,30,25,25,22,30,22,18],
    [40,30,35,32,43,30,40,31,32,34,33,33,35,39,32,30,29,30,30,31,24,30,30,31,23,19,30,25,32,29,30,31,30,32,22,31,31,30,25,28,20],
    [44,31,32,31,43,30,62,29,30,46,46,52,42,42,40,35,35,52,30,35,35,30,34,33,24,12,20,35,30,25,32,32,35,31,36,34,34,33,33,30,30],
    [52,36,33,33,47,47,60,33,30,44,48,55,46,56,46,50,38,60,30,33,34,34,35,33,33,21,35,31,31,31,34,33,33,36,36,43,42,33,36,33,31],
    [53,38,31,46,52,56,80,32,30,46,75,60,46,56,40,48,55,64,33,39,41,33,36,42,35,30,30,43,35,34,41,34,36,42,35,41,33,40,34,32,31],
    [69,58,39,46,36,44,56,33,30,79,72,50,40,57,33,62,47,66,31,40,40,32,36,34,34,34,33,47,33,34,38,34,33,36,39,33,47,25,36,25,25],
    [80,58,58,35,37,75,58,33,34,41,70,44,44,36,36,34,58,50,40,46,33,34,34,34,41,44,33,59,33,37,42,40,36,33,36,38,33,26,33,26,25],
    [60,54,42,53,53,50,43,40,33,48,33,52,54,33,52,40,53,62,34,57,33,38,40,40,42,58,33,40,40,33,44,37,33,33,33,30,30,38,29,36,31],
    [72,56,58,66,58,47,47,33,33,46,60,60,42,37,60,44,62,80,40,64,33,45,40,40,45,74,30,46,50,50,39,44,36,53,40,34,31,38,28,43,32],
]
I_VALUES = [
    [14,9,17,7,5,4,6,5,16,13,8,7,15,8,6,4,3,5,6,5,9,8,5,6,7,8,6,5,6,6,4,5,4,5,2,3,3,5,4,3,2],
    [5,17,20,15,6,7,4,18,8,8,7,8,15,5,9,9,7,8,5,4,8,8,6,9,6,8,5,9,6,4,4,4,7,5,4,2,3,3,5,4,4],
    [6,26,14,7,5,15,8,22,12,6,4,9,4,5,10,10,10,5,7,6,11,6,8,7,5,6,6,8,5,8,11,2,5,4,4,4,2,3,9,5,2],
    [9,24,12,14,8,18,7,15,15,6,4,7,3,4,15,8,15,2,8,8,9,8,10,6,7,14,6,5,4,8,9,1,5,2,2,3,3,4,4,4,5],
    [12,19,19,10,13,9,19,19,5,8,2,5,12,5,8,8,8,4,8,9,1,12,8,11,11,8,5,12,6,11,6,1,5,4,3,4,1,5,14,5,5],
    [8,18,23,18,18,10,19,24,9,15,6,6,10,10,6,12,5,5,7,6,2,9,5,9,9,6,5,13,6,9,7,2,8,6,5,5,1,6,6,6,4],
    [18,23,18,21,17,27,15,22,9,21,18,21,8,7,13,9,4,10,8,7,7,6,4,10,6,6,7,9,5,9,5,2,8,3,10,2,2,6,4,5,3],
    [16,21,20,17,19,28,22,26,19,20,10,19,14,9,19,18,2,8,8,6,10,8,7,13,9,4,8,9,13,15,5,2,10,15,9,9,3,9,4,10,6],
    [19,19,17,13,21,17,17,26,18,19,18,15,9,12,14,18,5,22,5,5,4,6,5,9,21,9,7,14,8,5,17,5,6,14,8,12,3,10,6,14,12],
    [23,20,19,15,15,13,22,16,20,24,10,22,18,10,10,13,20,20,22,9,13,7,9,20,9,8,8,9,6,7,16,3,8,8,7,9,3,8,20,21,16],
    [22,19,19,11,15,16,24,15,29,22,18,24,20,17,18,10,22,13,24,19,19,18,10,18,18,14,5,6,5,9,7,1,5,5,2,9,2,10,4,14,5],
    [20,20,22,20,18,11,22,15,28,23,19,32,19,15,20,20,20,14,27,11,8,10,12,12,9,18,10,6,8,9,19,3,10,14,9,18,6,3,6,8,4],
    [18,26,19,30,21,14,20,12,24,24,23,25,20,14,20,22,21,19,26,18,5,20,22,8,8,8,8,14,14,20,20,3,5,5,8,14,9,8,3,5,4],
    [20,12,20,30,25,17,22,22,23,24,24,33,18,16,20,9,24,21,25,19,12,17,25,9,16,19,20,15,15,22,14,5,9,5,17,6,14,9,5,12,6],
    [18,14,28,21,23,23,26,24,23,20,21,33,20,20,16,8,25,22,32,25,29,18,27,10,19,21,21,15,23,20,10,8,9,5,16,6,12,10,4,11,8],
    [15,15,27,29,22,23,31,20,28,18,22,28,16,16,24,18,24,20,32,22,26,15,22,10,22,24,24,22,24,27,14,9,15,10,10,10,19,20,16,12,9],
    [22,26,28,28,20,31,20,27,32,22,18,30,15,15,22,14,24,32,29,16,28,28,25,14,22,20,25,24,24,25,20,17,15,8,22,9,20,21,18,19,8],
    [26,24,33,33,19,26,32,28,26,26,23,32,14,24,21,21,31,33,29,23,33,33,28,20,28,27,26,28,26,26,24,15,24,13,17,17,19,21,15,24,8],
    [27,26,33,33,26,24,27,28,33,33,12,32,20,21,20,32,29,32,33,32,33,26,22,27,21,26,28,26,27,26,13,14,12,8,18,20,21,12,17,20,19],
    [31,28,33,31,31,33,24,30,29,23,29,32,20,27,27,30,26,32,32,26,30,13,22,24,22,22,27,27,31,29,21,22,22,8,22,27,22,14,21,23,14],
    [35,31,32,20,33,34,35,21,33,33,32,29,31,22,18,24,22,33,33,26,33,24,19,28,26,19,22,33,33,32,20,20,25,8,29,25,17,17,10,26,13],
    [35,33,33,34,37,33,34,28,22,34,26,33,25,28,32,22,23,21,32,26,34,25,21,27,15,28,21,32,32,34,24,21,34,21,21,22,20,20,10,28,12],
    [33,36,34,34,33,33,38,34,35,31,34,35,32,26,32,21,25,25,32,25,17,25,28,18,20,16,25,33,25,34,24,10,33,23,25,26,15,15,12,33,18],
    [33,36,31,38,32,33,36,36,36,27,27,37,35,33,30,23,29,29,32,33,33,27,24,28,20,20,18,22,18,20,17,14,26,20,29,33,20,24,21,32,26],
    [33,44,35,38,25,35,37,37,40,33,33,40,33,33,33,23,23,23,36,28,33,23,15,33,27,19,33,22,26,18,19,28,28,33,27,34,28,32,23,35,30],
    [37,49,37,44,31,37,38,36,44,34,34,33,33,33,33,26,26,26,33,33,28,24,20,35,24,26,34,22,33,22,20,29,26,34,27,35,24,35,26,35,26],
    [36,38,38,38,30,36,42,46,33,24,33,38,33,32,26,33,33,20,33,26,28,28,21,33,30,34,34,33,33,25,19,29,29,24,34,38,28,33,25,36,29],
    [57,60,36,52,28,31,56,36,37,25,33,33,33,33,33,33,33,35,33,25,35,35,34,35,35,25,25,28,25,31,25,25,24,21,24,33,23,26,22,32,24],
    [59,44,36,42,34,33,68,36,42,33,33,37,33,38,33,33,33,33,33,33,32,33,33,37,50,36,26,33,33,25,26,25,33,24,27,33,24,34,24,33,25],
    [68,78,58,47,42,42,80,34,42,48,32,44,37,34,34,36,33,35,34,46,36,32,38,40,50,32,32,38,38,26,27,22,32,26,24,32,32,31,26,33,31],
    [62,94,48,40,37,40,60,72,36,36,36,36,27,33,33,33,33,41,33,33,34,36,37,37,36,34,34,36,32,32,30,28,36,34,34,33,33,33,25,33,33],
]

PCT_TICKS = list(range(10, 101, 5))
M_TICKS = list(range(100, 251, 10))
H_TICKS = [round(7 + 0.1 * i, 2) for i in range(21)]
H_LABELS = ["%.2f" % t for t in H_TICKS]

GNBU = ["#084081", "#0868ac", "#2b8cbe", "#4eb3d3", "#7bccc4", "#a8ddb5", "#ccebc5", "#e0f3db", "#f7fcf0"]
ORRD = ["#fff7ec", "#fee8c8", "#fdd49e", "#fdbb84", "#fc8d59", "#ef6548", "#d7301f", "#b30000", "#7f0000"]


def make_scale(split):
    low = [[split * i / 8, c] for i, c in enumerate(GNBU)]
    high = [[split + 0.006 + (1 - split - 0.006) * i / 8, c] for i, c in enumerate(ORRD)]
    return low + high


def fx(p):
    return p / W


def fy(p):
    return 1 - p / H


SANS = "Liberation Sans"
SERIF = "Liberation Serif"
X_TITLE = "<i>M</i>(<i>ε</i>, <b>c</b>) (% of <i>M</i>(<i>ε</i>, <b>n</b>))"
Y_TITLE = "<i>M</i> (<i>ε</i>, <b>n</b>)"
H_TITLE = "<i>h</i><sup>−1</sup> (×10<sup>3</sup>)"
TICK_FONT = dict(family=SANS, size=31, color="#222222")

# x0, x1, y0, y1, cbar x0, cbar x1, letter box x0, y0, xtitle x, y, ytitle x, y, mse x, y
panels = [
    ("a", A_VALUES, 293, 1060, 127, 609, 1067, 1087, 1096, 651, 685, 727, 191, 368, 1182, 366),
    ("b", B_VALUES, 1373, 2135, 126, 606, 2142, 2162, 2180, 651, 1760, 727, 1270, 369, 2258, 366),
    ("c", C_VALUES, 2449, 3212, 127, 608, 3227, 3257, 3257, 651, 2830, 727, 2344, 368, 0, 0),
    ("d", D_VALUES, 291, 1054, 804, 1282, 1060, 1080, 1096, 1317, 685, 1407, 191, 1037, 1182, 1038),
    ("e", E_VALUES, 1373, 2135, 803, 1282, 2142, 2163, 2180, 1317, 1760, 1406, 1270, 1037, 2260, 1038),
    ("f", F_VALUES, 2438, 3210, 806, 1294, 3226, 3257, 3251, 1317, 2830, 1403, 2344, 1039, 0, 0),
    ("g", G_VALUES, 291, 1054, 1465, 1944, 1060, 1081, 1096, 1985, 685, 2075, 191, 1705, 1178, 1695),
    ("h", H_VALUES, 1373, 2135, 1465, 1943, 2142, 2163, 2180, 1985, 1760, 2075, 1270, 1705, 2260, 1697),
    ("i", I_VALUES, 2445, 3216, 1470, 1957, 3231, 3263, 3256, 1977, 2830, 2074, 2344, 1704, 0, 0),
]
compare = {
    "c": dict(zmin=-5.63, zmax=4.87, split=0.32, ticks=[-4, -2, 0, 2, 4]),
    "f": dict(zmin=0, zmax=8, split=0.325, ticks=[0, 2, 4, 6, 8]),
    "i": dict(zmin=0, zmax=9.4, split=0.31, ticks=[0, 2, 4, 6, 8]),
}
exps = [("7", 102), ("6", 767), ("6", 1441)]

fig = go.Figure()
layout = {}
shapes = []
notes = []


def text(x, y, s, size, font=SERIF, color="black", angle=0):
    notes.append(dict(x=fx(x), y=fy(y), xref="paper", yref="paper", text=s, showarrow=False,
                      font=dict(family=font, size=size, color=color), textangle=angle,
                      xanchor="center", yanchor="middle"))


def box(x0, y0, x1, y1, fill="#fdefd9", line="#e8503a", lw=5):
    shapes.append(dict(type="rect", xref="paper", yref="paper", x0=fx(x0), x1=fx(x1), y0=fy(y1), y1=fy(y0),
                       fillcolor=fill, line=dict(color=line, width=lw)))


for n, p in enumerate(panels):
    name, z, x0, x1, y0, y1, c0, c1, lx, ly, tx, ty, yx, yy, mx, my = p
    ax = "" if n == 0 else str(n + 1)
    is_cmp = name in compare
    if is_cmp:
        cfg = compare[name]
        z = [[v / 10 for v in row] for row in z]
        zmin, zmax, scale, cticks = cfg["zmin"], cfg["zmax"], make_scale(cfg["split"]), cfg["ticks"]
        xe = H_EDGES
        xticks, xlabels = H_TICKS, H_LABELS
        xr = [6.975, 9.025]
    else:
        zmin, zmax, scale, cticks = -66.9, 3.2, make_scale(0.169), list(range(-65, 0, 10))
        xe = PCT_EDGES
        xticks, xlabels = PCT_TICKS, [str(t) for t in PCT_TICKS]
        xr = [9.5, 100.5]
    fig.add_trace(go.Heatmap(z=z, x=xe, y=M_EDGES, xaxis="x" + ax, yaxis="y" + ax, colorscale=scale,
                             zmin=zmin, zmax=zmax, hoverinfo="skip",
                             colorbar=dict(x=fx(c0), xanchor="left", xpad=0, thickness=c1 - c0,
                                           y=fy(y1), yanchor="bottom", ypad=0, len=(y1 - y0) / H,
                                           outlinecolor="#888888", outlinewidth=2, tickvals=cticks,
                                           ticks="inside", ticklen=5, tickcolor="#333333",
                                           tickfont=TICK_FONT)))
    tick = "" if is_cmp else "inside"
    layout["xaxis" + ax] = dict(domain=[fx(x0), fx(x1)], anchor="y" + ax, range=xr, tickvals=xticks,
                                ticktext=xlabels, tickangle=-90, ticks=tick, ticklen=10, tickcolor="#333333",
                                showgrid=False, zeroline=False, mirror="allticks" if not is_cmp else True,
                                showline=True, linecolor="#888888", linewidth=2, tickfont=TICK_FONT)
    layout["yaxis" + ax] = dict(domain=[fy(y1), fy(y0)], anchor="x" + ax, range=[252.5, 97.5], tickvals=M_TICKS,
                                ticks=tick, ticklen=10, tickcolor="#333333",
                                showgrid=False, zeroline=False, mirror="allticks" if not is_cmp else True,
                                showline=True, linecolor="#888888", linewidth=2, tickfont=TICK_FONT)
    text(tx, ty, H_TITLE if is_cmp else X_TITLE, 44 if is_cmp else 46)
    text(yx, yy, Y_TITLE, 45, angle=-90)
    if not is_cmp:
        text(mx, my, "MSE (dB)", 36, font=SANS, angle=-90)
    box(lx, ly, lx + 52, ly + 67, fill="black", line="black", lw=0)
    text(lx + 26, ly + 33, name, 48, font=SANS, color="white")

box(293, 7, 1058, 83)
box(1373, 9, 2131, 84)
box(2449, 10, 3206, 86)
box(8, 123, 128, 607)
box(8, 797, 128, 1282)
box(8, 1455, 128, 1940)
text(675, 44, "<i>ℳ</i>ΛΣΔQ<sup>[1]</sup>", 45)
text(1752, 44, "<i>ℳ</i>ΛΣΔQ<sup>[2]</sup>", 45)
text(2828, 49, "Comparison", 40, font=SANS)
text(68, 365, "Fourier Transform<br>(FT)", 40, font=SANS, angle=-90)
text(68, 1040, "Fractional Fourier<br>Transform (FrFT)", 40, font=SANS, angle=-90)
text(68, 1697, "Fresnel Transform<br>(FrT)", 40, font=SANS, angle=-90)
for e, y in exps:
    text(3313, y, "×10<sup>−%s</sup>" % e, 36)

fig.update_layout(width=W, height=H, margin=dict(l=0, r=0, t=0, b=0, autoexpand=False), paper_bgcolor="white",
                  plot_bgcolor="white", shapes=shapes, annotations=notes, **layout)
fig.write_html("out.html", post_script="document.body.style.margin='0';", config={"displayModeBar": False})
